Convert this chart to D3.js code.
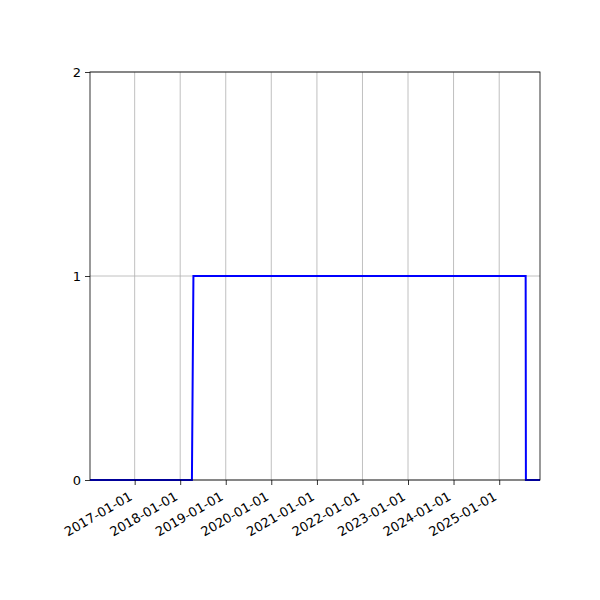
<!DOCTYPE html>
<html>
<head>
<meta charset="utf-8">
<script src="https://cdn.jsdelivr.net/npm/d3@7"></script>
<style>
  body { margin: 0; background: #fff; }
  svg text { font-family: "DejaVu Sans", sans-serif; font-size: 13px; fill: #000; }
</style>
</head>
<body>
<svg id="chart" width="600" height="600"></svg>
<script>
// Data
const dates = ["2016-01-09", "2018-04-05", "2018-04-17", "2025-08-01", "2025-08-03", "2025-11-24"];
const values = [0, 0, 1, 1, 0, 0];
const xTickLabels = ["2017-01-01", "2018-01-01", "2019-01-01", "2020-01-01", "2021-01-01",
                     "2022-01-01", "2023-01-01", "2024-01-01", "2025-01-01"];
const yTicks = [0, 1, 2];

const parse = d3.utcParse("%Y-%m-%d");
const points = dates.map((d, i) => ({ date: parse(d), value: values[i] }));

const svg = d3.select("#chart");
const plotLeft = 90, plotRight = 540, plotTop = 72, plotBottom = 480;

const x = d3.scaleUtc()
  .domain(d3.extent(points, d => d.date))
  .range([plotLeft, plotRight]);

const y = d3.scaleLinear()
  .domain([0, 2])
  .range([plotBottom, plotTop]);

const xTicks = xTickLabels.map(parse);

// Grid
svg.append("g")
  .selectAll("line")
  .data(xTicks)
  .join("line")
  .attr("x1", d => x(d)).attr("x2", d => x(d))
  .attr("y1", plotTop).attr("y2", plotBottom)
  .attr("stroke", "#b0b0b0").attr("stroke-width", 0.8);

svg.append("g")
  .selectAll("line")
  .data(yTicks)
  .join("line")
  .attr("x1", plotLeft).attr("x2", plotRight)
  .attr("y1", d => y(d)).attr("y2", d => y(d))
  .attr("stroke", "#b0b0b0").attr("stroke-width", 0.8);

// Line
const line = d3.line()
  .x(d => x(d.date))
  .y(d => y(d.value));

svg.append("path")
  .datum(points)
  .attr("d", line)
  .attr("fill", "none")
  .attr("stroke", "blue")
  .attr("stroke-width", 2);

// Frame
svg.append("rect")
  .attr("x", plotLeft).attr("y", plotTop)
  .attr("width", plotRight - plotLeft).attr("height", plotBottom - plotTop)
  .attr("fill", "none").attr("stroke", "#000").attr("stroke-width", 0.8);

// X axis
const xAxis = d3.axisBottom(x)
  .tickValues(xTicks)
  .tickFormat(d3.utcFormat("%Y-%m-%d"))
  .tickSize(5)
  .tickPadding(4);

const gx = svg.append("g")
  .attr("transform", `translate(0,${plotBottom})`)
  .call(xAxis);
gx.select(".domain").remove();
gx.selectAll(".tick line").attr("stroke", "#000").attr("stroke-width", 0.8);
gx.selectAll(".tick text")
  .attr("text-anchor", "end")
  .attr("dy", null)
  .attr("y", 0).attr("x", 0)
  .attr("transform", "translate(-2,19) rotate(-30)")
  .style("font-family", "DejaVu Sans").style("font-size", "13px");

// Y axis
const yAxis = d3.axisLeft(y)
  .tickValues(yTicks)
  .tickFormat(d3.format("d"))
  .tickSize(5)
  .tickPadding(4);

const gy = svg.append("g")
  .attr("transform", `translate(${plotLeft},0)`)
  .call(yAxis);
gy.select(".domain").remove();
gy.selectAll(".tick line").attr("stroke", "#000").attr("stroke-width", 0.8);
gy.selectAll(".tick text")
  .style("font-family", "DejaVu Sans").style("font-size", "13px");
</script>
</body>
</html>
